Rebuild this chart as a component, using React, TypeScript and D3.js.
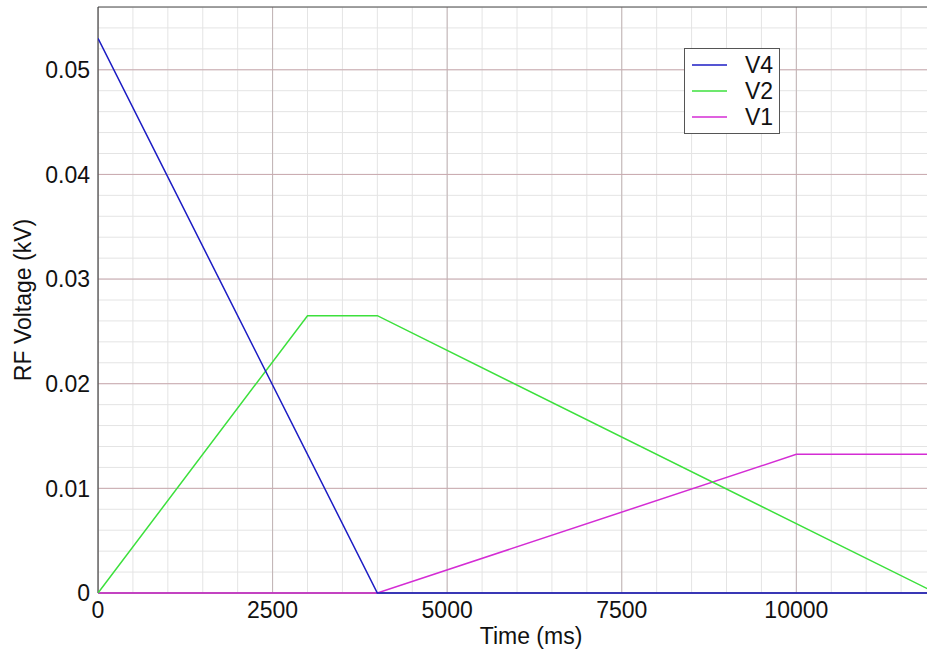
import { useMemo } from 'react';
import * as d3 from 'd3';

// Series data (time in ms, RF voltage in kV)
const v4Time = [0, 4000, 12000];
const v4Volt = [0.053, 0, 0];

const v2Time = [0, 3000, 4000, 12000];
const v2Volt = [0, 0.0265, 0.0265, 0];

const v1Time = [0, 4000, 10000, 12000];
const v1Volt = [0, 0, 0.01325, 0.01325];

const xTicks = [0, 2500, 5000, 7500, 10000];
const yTicks = [0, 0.01, 0.02, 0.03, 0.04, 0.05];

const seriesNames = ['V4', 'V2', 'V1'];

const WIDTH = 927;
const HEIGHT = 657;
const PLOT = { left: 98, top: 7, bottom: 593, right: 936 };
const FONT = '"Liberation Sans", Arial, Helvetica, sans-serif';

const COLORS: Record<string, string> = {
  V4: '#1c1cc4',
  V2: '#3ce03c',
  V1: '#d42cd4',
};

type Pt = { t: number; v: number };

export default function App() {
  const x = d3.scaleLinear().domain([0, 12000]).range([PLOT.left, PLOT.right]);
  const y = d3.scaleLinear().domain([0, 0.056]).range([PLOT.bottom, PLOT.top]);

  const series = useMemo(
    () => ({
      V4: v4Time.map((t, i) => ({ t, v: v4Volt[i] })),
      V2: v2Time.map((t, i) => ({ t, v: v2Volt[i] })),
      V1: v1Time.map((t, i) => ({ t, v: v1Volt[i] })),
    }),
    []
  );

  const line = d3
    .line<Pt>()
    .x((d) => x(d.t))
    .y((d) => y(d.v));

  const minorX = d3.range(0, 12001, 500);
  const minorY = d3.range(0, 0.0561, 0.002);
  const majorX = d3.range(0, 12001, 2500);
  const majorY = d3.range(0, 0.0561, 0.01);

  const clipRight = WIDTH;

  return (
    <svg
      width={WIDTH}
      height={HEIGHT}
      style={{ position: 'absolute', left: 0, top: 0, background: '#fff' }}
      fontFamily={FONT}
    >
      <defs>
        <clipPath id="plot-clip">
          <rect
            x={PLOT.left}
            y={PLOT.top}
            width={clipRight - PLOT.left}
            height={PLOT.bottom - PLOT.top + 1}
          />
        </clipPath>
      </defs>

      {/* Minor grid */}
      <g clipPath="url(#plot-clip)" stroke="#e4e4e4" strokeWidth={1}>
        {minorX.map((t) => (
          <line key={'mx' + t} x1={x(t)} x2={x(t)} y1={PLOT.top} y2={PLOT.bottom} />
        ))}
        {minorY.map((v) => (
          <line key={'my' + v} x1={PLOT.left} x2={PLOT.right} y1={y(v)} y2={y(v)} />
        ))}
      </g>

      {/* Major grid */}
      <g clipPath="url(#plot-clip)" strokeWidth={1}>
        {majorX.map((t) => (
          <line key={'Mx' + t} x1={x(t)} x2={x(t)} y1={PLOT.top} y2={PLOT.bottom} stroke="#c2b4b5" />
        ))}
        {majorY.map((v) => (
          <line key={'My' + v} x1={PLOT.left} x2={PLOT.right} y1={y(v)} y2={y(v)} stroke="#c9a9ae" />
        ))}
      </g>

      {/* Frame */}
      <g stroke="#444" strokeWidth={1.2}>
        <line x1={PLOT.left} x2={clipRight} y1={PLOT.top} y2={PLOT.top} />
        <line x1={PLOT.left} x2={PLOT.left} y1={PLOT.top} y2={PLOT.bottom} />
        <line x1={PLOT.left} x2={clipRight} y1={PLOT.bottom} y2={PLOT.bottom} />
      </g>

      {/* Series */}
      <g clipPath="url(#plot-clip)" fill="none" strokeWidth={1.5}>
        <path d={line(series.V1) ?? ''} stroke={COLORS.V1} />
        <path d={line(series.V2) ?? ''} stroke={COLORS.V2} />
        <path d={line(series.V4) ?? ''} stroke={COLORS.V4} />
      </g>

      {/* Y tick labels */}
      <g fontSize={23} fill="#111" textAnchor="end">
        {yTicks.map((v) => (
          <text key={'yl' + v} x={PLOT.left - 8} y={y(v)} dy="0.36em">
            {d3.format('~g')(v)}
          </text>
        ))}
      </g>

      {/* X tick labels */}
      <g fontSize={23} fill="#111" textAnchor="middle">
        {xTicks.map((t) => (
          <text key={'xl' + t} x={x(t)} y={618}>
            {t}
          </text>
        ))}
      </g>

      {/* Axis titles */}
      <text x={531} y={644} fontSize={23} textAnchor="middle" fill="#111">
        Time (ms)
      </text>
      <text
        transform={`translate(31,${(PLOT.top + PLOT.bottom) / 2}) rotate(-90)`}
        fontSize={23}
        textAnchor="middle"
        fill="#111"
      >
        RF Voltage (kV)
      </text>

      {/* Legend */}
      <g>
        <rect x={684.5} y={48.5} width={95} height={85} fill="#fff" stroke="#555" strokeWidth={1} />
        {seriesNames.map((name, i) => (
          <g key={name} transform={`translate(0,${65 + i * 26})`}>
            <line x1={692} x2={727} y1={0} y2={0} stroke={COLORS[name]} strokeWidth={1.5} />
            <text x={745} y={0} dy="0.36em" fontSize={23} fill="#111">
              {name}
            </text>
          </g>
        ))}
      </g>
    </svg>
  );
}
